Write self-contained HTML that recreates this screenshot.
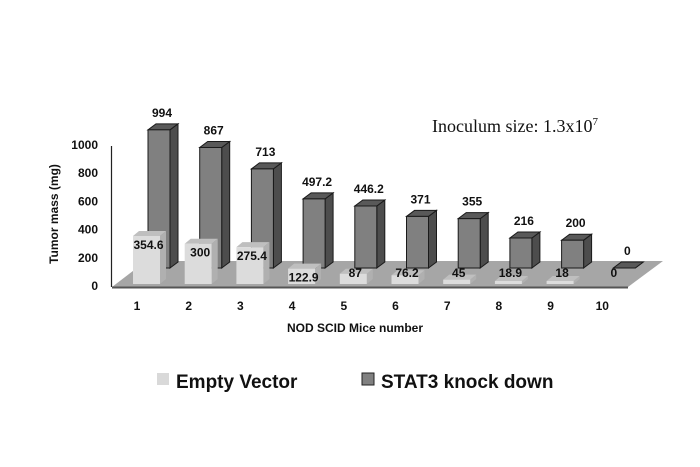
<!DOCTYPE html>
<html><head><meta charset="utf-8">
<style>
html,body{margin:0;padding:0;background:#fff;}
svg{display:block;font-family:"Liberation Sans",sans-serif;}
</style></head>
<body>
<svg id="chart" width="700" height="467" viewBox="0 0 700 467" xmlns="http://www.w3.org/2000/svg">
<rect width="700" height="467" fill="#fff"/>
<polygon points="112,287 628,287 663,261 146,261" fill="#a6a6a6"/>
<line x1="112" y1="287.5" x2="628" y2="287.5" stroke="#555" stroke-width="2"/>
<line x1="111.5" y1="146" x2="111.5" y2="287" stroke="#222" stroke-width="1.2"/>
<g id="yticks"></g>
<g id="backbars"></g>
<g id="frontbars"></g>
<g id="xlabels"></g>
<text transform="translate(58,214) rotate(-90)" text-anchor="middle" font-size="12" font-weight="bold" fill="#111">Tumor mass (mg)</text>
<text x="355" y="332" text-anchor="middle" font-size="12" font-weight="bold" fill="#111">NOD SCID Mice number</text>
<text x="432" y="132" font-family="Liberation Serif,serif" font-size="18" fill="#111">Inoculum size: 1.3x10<tspan font-size="11" dy="-7">7</tspan></text>
<g>
<rect x="157" y="373" width="12" height="12" fill="#d9d9d9"/>
<text x="176" y="388" font-size="19" font-weight="bold" fill="#111">Empty Vector</text>
<rect x="362" y="373" width="12" height="12" fill="#808080" stroke="#222" stroke-width="1"/>
<text x="381" y="388" font-size="19" font-weight="bold" fill="#111">STAT3 knock down</text>
</g>
</svg>
<script>
const categories = ["1","2","3","4","5","6","7","8","9","10"];
const emptyVector = [354.6, 300, 275.4, 122.9, 87, 76.2, 45, 18.9, 18, 0];
const stat3 = [994, 867, 713, 497.2, 446.2, 371, 355, 216, 200, 0];
const yTicks = [0, 200, 400, 600, 800, 1000];

const NS = "http://www.w3.org/2000/svg";
const k = 141/1000;
function yFront(v){ return 286 - v*k; }
function yBack(v){ return 268 - v*0.139; }
function xCat(i){ return 137 + i*51.7; }

function mk(tag, attrs, parent){
  const e = document.createElementNS(NS, tag);
  for (const a in attrs) e.setAttribute(a, attrs[a]);
  parent.appendChild(e);
  return e;
}

const yt = document.getElementById("yticks");
yTicks.forEach(t=>{
  const e = mk("text",{x:98,y:yFront(t)+4,"text-anchor":"end","font-size":"12","font-weight":"bold",fill:"#111"},yt);
  
  
  e.textContent = t;
});

const xl = document.getElementById("xlabels");
categories.forEach((c,i)=>{
  const e = mk("text",{x:xCat(i),y:310,"text-anchor":"middle","font-size":"12","font-weight":"bold",fill:"#111"},xl);
  
  
  e.textContent = c;
});

function bar3d(parent, x, w, yb, yt, dx, dy, front, top, side, stroke, name){
  const g = mk("g",{},parent);
  
  
  const sw = stroke ? 1 : 0, st = stroke || "none";
  mk("polygon",{points:`${x+w},${yb} ${x+w+dx},${yb+dy} ${x+w+dx},${yt+dy} ${x+w},${yt}`,fill:side,stroke:st,"stroke-width":sw},g);
  mk("polygon",{points:`${x},${yt} ${x+w},${yt} ${x+w+dx},${yt+dy} ${x+dx},${yt+dy}`,fill:top,stroke:st,"stroke-width":sw},g);
  mk("rect",{x:x,y:yt,width:w,height:Math.max(0,yb-yt),fill:front,stroke:st,"stroke-width":sw},g);
  return g;
}

const bb = document.getElementById("backbars");
stat3.forEach((v,i)=>{
  const x = xCat(i)+11, w = 22, yb = 268, yt = yBack(v);
  bar3d(bb, x, w, yb, yt, 8, -6, "#808080", "#595959", "#4d4d4d", "#1a1a1a", "bar-stat3-"+categories[i]);
  const t = mk("text",{x:x+w/2+3,y:yt-13,"text-anchor":"middle","font-size":"12","font-weight":"bold",fill:"#111"},bb);
  
  
  t.textContent = v;
});

const fb = document.getElementById("frontbars");
emptyVector.forEach((v,i)=>{
  const x = xCat(i)-4, w = 27, yb = 284, yt = yFront(v);
  if (v > 0) bar3d(fb, x, w, yb, Math.min(yt, yb-3), 6, -5, "#dcdcdc", "#bfbfbf", "#b0b0b0", null, "bar-empty-vector-"+categories[i]);
  const ly = v > 100 ? yt + 13 : 277;
  const t = mk("text",{x:x+w/2+2,y:ly,"text-anchor":"middle","font-size":"12","font-weight":"bold",fill:"#111"},fb);
  
  
  t.textContent = v;
});
</script>
</body></html>
